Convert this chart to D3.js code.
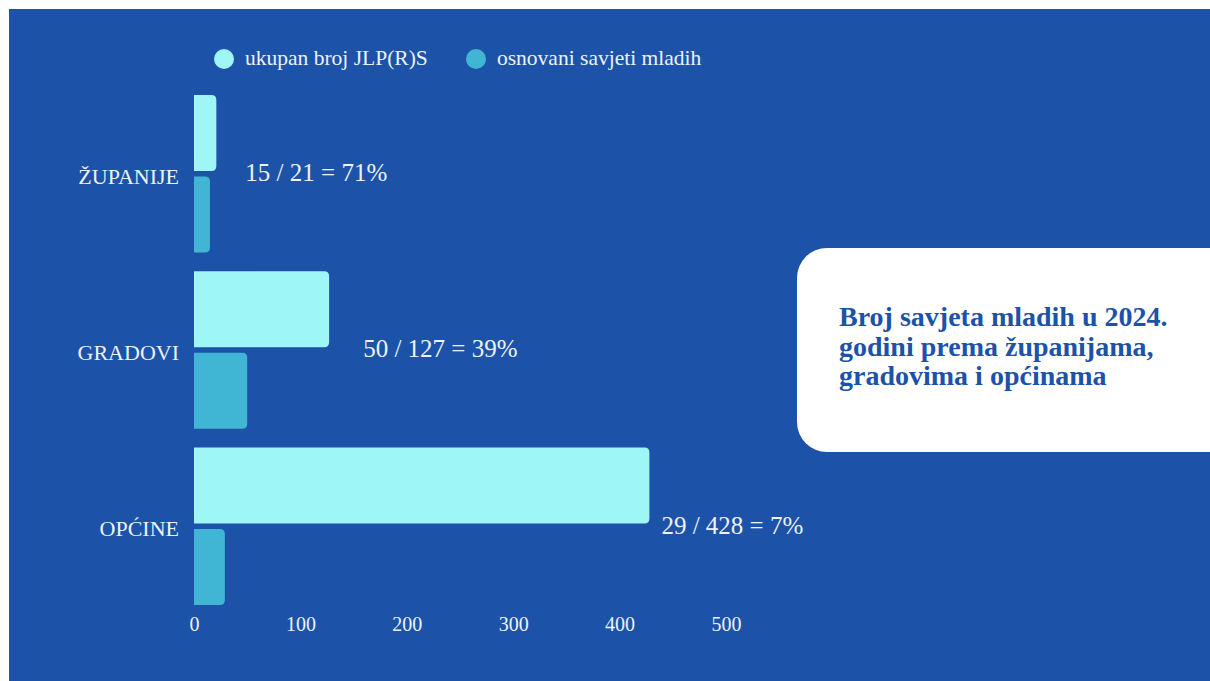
<!DOCTYPE html>
<html>
<head>
<meta charset="utf-8">
<script src="https://cdn.jsdelivr.net/npm/d3@7"></script>
<style>
  html, body { margin: 0; padding: 0; background: #fff; }
  svg { display: block; }
</style>
</head>
<body>
<svg id="chart" width="1210" height="681"></svg>
<script>
const categories = ["ŽUPANIJE", "GRADOVI", "OPĆINE"];
const totals = [21, 127, 428];
const founded = [15, 50, 29];
const seriesNames = ["ukupan broj JLP(R)S", "osnovani savjeti mladih"];
const ticks = [0, 100, 200, 300, 400, 500];
const titleLines = ["Broj savjeta mladih u 2024.", "godini prema županijama,", "gradovima i općinama"];

const blue = "#1c52a8";
const colors = ["#9ff6f7", "#41b5d4"];
const font = "'Liberation Serif', 'Times New Roman', serif";
const textColor = "#eef2fb";
// labels were nudged by hand in the original
const labelDx = [29, 34, 12];

const svg = d3.select("#chart");

svg.append("rect")
  .attr("x", 9).attr("y", 9)
  .attr("width", 1201).attr("height", 672)
  .attr("fill", blue);

const x = d3.scaleLinear().domain([0, 500]).range([194, 726]);

const y = d3.scaleBand()
  .domain(categories)
  .range([95, 605])
  .paddingInner(0.107);

const ySub = d3.scaleBand()
  .domain([0, 1])
  .range([0, y.bandwidth()])
  .paddingInner(0.066);

// bar with rounded right corners only
function barPath(x0, x1, y0, h, r) {
  r = Math.min(r, (x1 - x0) / 2, h / 2);
  return `M${x0},${y0}H${x1 - r}Q${x1},${y0} ${x1},${y0 + r}` +
    `V${y0 + h - r}Q${x1},${y0 + h} ${x1 - r},${y0 + h}H${x0}Z`;
}

const rows = categories.map((c, i) => ({ cat: c, vals: [totals[i], founded[i]], i }));

const groups = svg.selectAll("g.row")
  .data(rows)
  .enter()
  .append("g")
  .attr("class", "row")
  .attr("transform", d => `translate(0, ${y(d.cat)})`);

groups.selectAll("path")
  .data(d => d.vals.map((v, k) => ({ v, k })))
  .enter()
  .append("path")
  .attr("d", d => barPath(x(0), x(d.v), ySub(d.k), ySub.bandwidth(), 5))
  .attr("fill", d => colors[d.k]);

groups.append("text")
  .attr("x", 179)
  .attr("y", y.bandwidth() / 2 + 10)
  .attr("text-anchor", "end")
  .attr("font-family", font)
  .attr("font-size", 22)
  .attr("fill", textColor)
  .text(d => d.cat);

groups.append("text")
  .attr("x", d => x(totals[d.i]) + labelDx[d.i])
  .attr("y", y.bandwidth() / 2 + 7.5)
  .attr("font-family", font)
  .attr("font-size", 25)
  .attr("fill", textColor)
  .text(d => `${founded[d.i]} / ${totals[d.i]} = ${Math.round(founded[d.i] / totals[d.i] * 100)}%`);

// x axis, labels only
const axis = svg.append("g")
  .attr("transform", "translate(0, 614)")
  .call(d3.axisBottom(x).tickValues(ticks).tickSize(0).tickFormat(d3.format("d")));
axis.select(".domain").remove();
axis.selectAll("text")
  .attr("font-family", font)
  .attr("font-size", 20)
  .attr("fill", textColor);

// legend
const legend = svg.append("g");
const legendX = [224, 476];
seriesNames.forEach((name, k) => {
  legend.append("circle")
    .attr("cx", legendX[k]).attr("cy", 59)
    .attr("r", 10)
    .attr("fill", colors[k]);
  legend.append("text")
    .attr("x", legendX[k] + 21)
    .attr("y", 65)
    .attr("font-family", font)
    .attr("font-size", 21.5)
    .attr("fill", textColor)
    .text(name);
});

// title box
svg.append("rect")
  .attr("x", 797).attr("y", 248)
  .attr("width", 460).attr("height", 204)
  .attr("rx", 30)
  .attr("fill", "#fff");

svg.append("text")
  .attr("font-family", font)
  .attr("font-size", 28)
  .attr("font-weight", "bold")
  .attr("fill", blue)
  .selectAll("tspan")
  .data(titleLines)
  .enter()
  .append("tspan")
  .attr("x", 839)
  .attr("y", (d, i) => 326 + i * 29.5)
  .text(d => d);
</script>
</body>
</html>
